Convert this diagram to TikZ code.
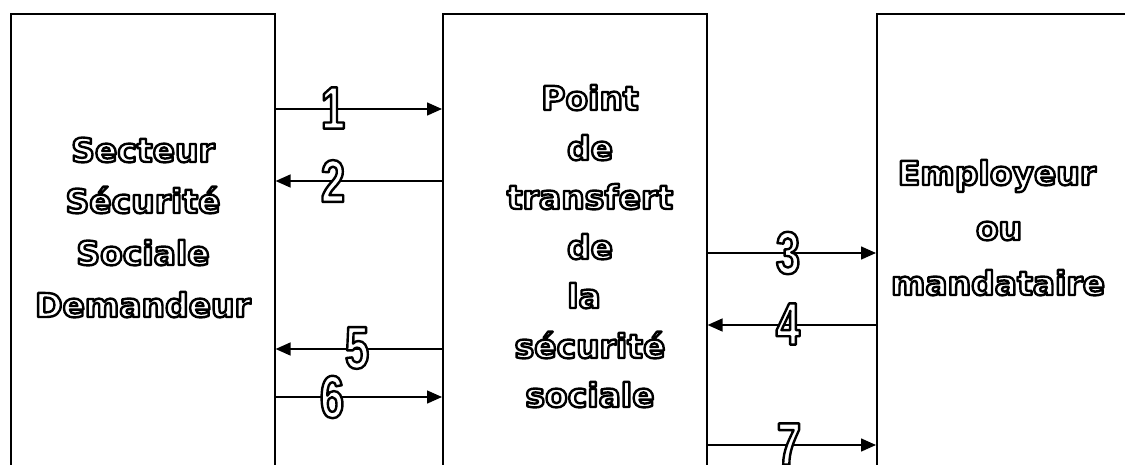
\documentclass[tikz,border=0pt]{standalone}
\usepackage{fontspec}
\setmainfont{DejaVu Sans}
\newfontfamily\numfont{Liberation Sans}[FakeStretch=0.72]
\usetikzlibrary{arrows.meta}
\tikzset{
  box/.style={draw=black, line width=1.6pt, minimum width=264pt, minimum height=520pt, anchor=north west, inner sep=0pt},
  arr/.style={line width=1.5pt, -{Triangle[length=15pt,width=13pt]}},
  lbl/.style={text=white, font=\bfseries\fontsize{33}{33}\selectfont, anchor=base, inner sep=0pt},
  num/.style={text=white, font=\numfont\bfseries\fontsize{60}{60}\selectfont, inner sep=0pt}
}
\newcommand{\oltxt}[1]{\special{pdf:literal direct 0 G 2.4 w 1 j 2 Tr}#1\special{pdf:literal direct 0 Tr}}
\begin{document}
\begin{tikzpicture}[x=1pt,y=-1pt]
\useasboundingbox (0,0) rectangle (1125,464);
\clip (0,0) rectangle (1125,464);
\node[box] (L) at (10,13) {};
\node[box] (M) at (442,13) {};
\node[box, minimum width=300pt] (R) at (876,13) {};
% row coordinates
\coordinate (y1) at (0,109);
\coordinate (y2) at (0,181);
\coordinate (y3) at (0,253);
\coordinate (y4) at (0,325);
\coordinate (y5) at (0,349);
\coordinate (y6) at (0,397);
\coordinate (y7) at (0,445);
% arrows
\draw[arr] (L.east |- y1) -- (M.west |- y1);
\draw[arr] (M.west |- y2) -- (L.east |- y2);
\draw[arr] (M.west |- y5) -- (L.east |- y5);
\draw[arr] (L.east |- y6) -- (M.west |- y6);
\draw[arr] (M.east |- y3) -- (R.west |- y3);
\draw[arr] (R.west |- y4) -- (M.east |- y4);
\draw[arr] (M.east |- y7) -- (R.west |- y7);
% numbers
\node[num] (n1) at (333,108) {\oltxt{1}};
\node[num] (n2) at (333,181) {\oltxt{2}};
\node[num] (n5) at (357,348) {\oltxt{5}};
\node[num] (n6) at (332,397) {\oltxt{6}};
\node[num] (n3) at (788,253) {\oltxt{3}};
\node[num] (n4) at (788,324) {\oltxt{4}};
\node[num] (n7) at (789,444) {\oltxt{7}};
% left text
\node[lbl] (t1) at (143,162) {\oltxt{Secteur}};
\node[lbl] (t2) at (143,213) {\oltxt{Sécurité}};
\node[lbl] (t3) at (143,265) {\oltxt{Sociale}};
\node[lbl] (t4) at (143,317) {\oltxt{Demandeur}};
% middle text
\node[lbl] (m1) at (590,110) {\oltxt{Point}};
\node[lbl] (m2) at (590,160) {\oltxt{de}};
\node[lbl] (m3) at (590,209) {\oltxt{transfert}};
\node[lbl] (m4) at (590,259) {\oltxt{de}};
\node[lbl] (m5) at (584,308) {\oltxt{la}};
\node[lbl] (m6) at (590,358) {\oltxt{sécurité}};
\node[lbl] (m7) at (590,407) {\oltxt{sociale}};
% right text
\node[lbl] (r1) at (997,185) {\oltxt{Employeur}};
\node[lbl] (r2) at (999,240) {\oltxt{ou}};
\node[lbl] (r3) at (998,295) {\oltxt{mandataire}};
\end{tikzpicture}
\end{document}
